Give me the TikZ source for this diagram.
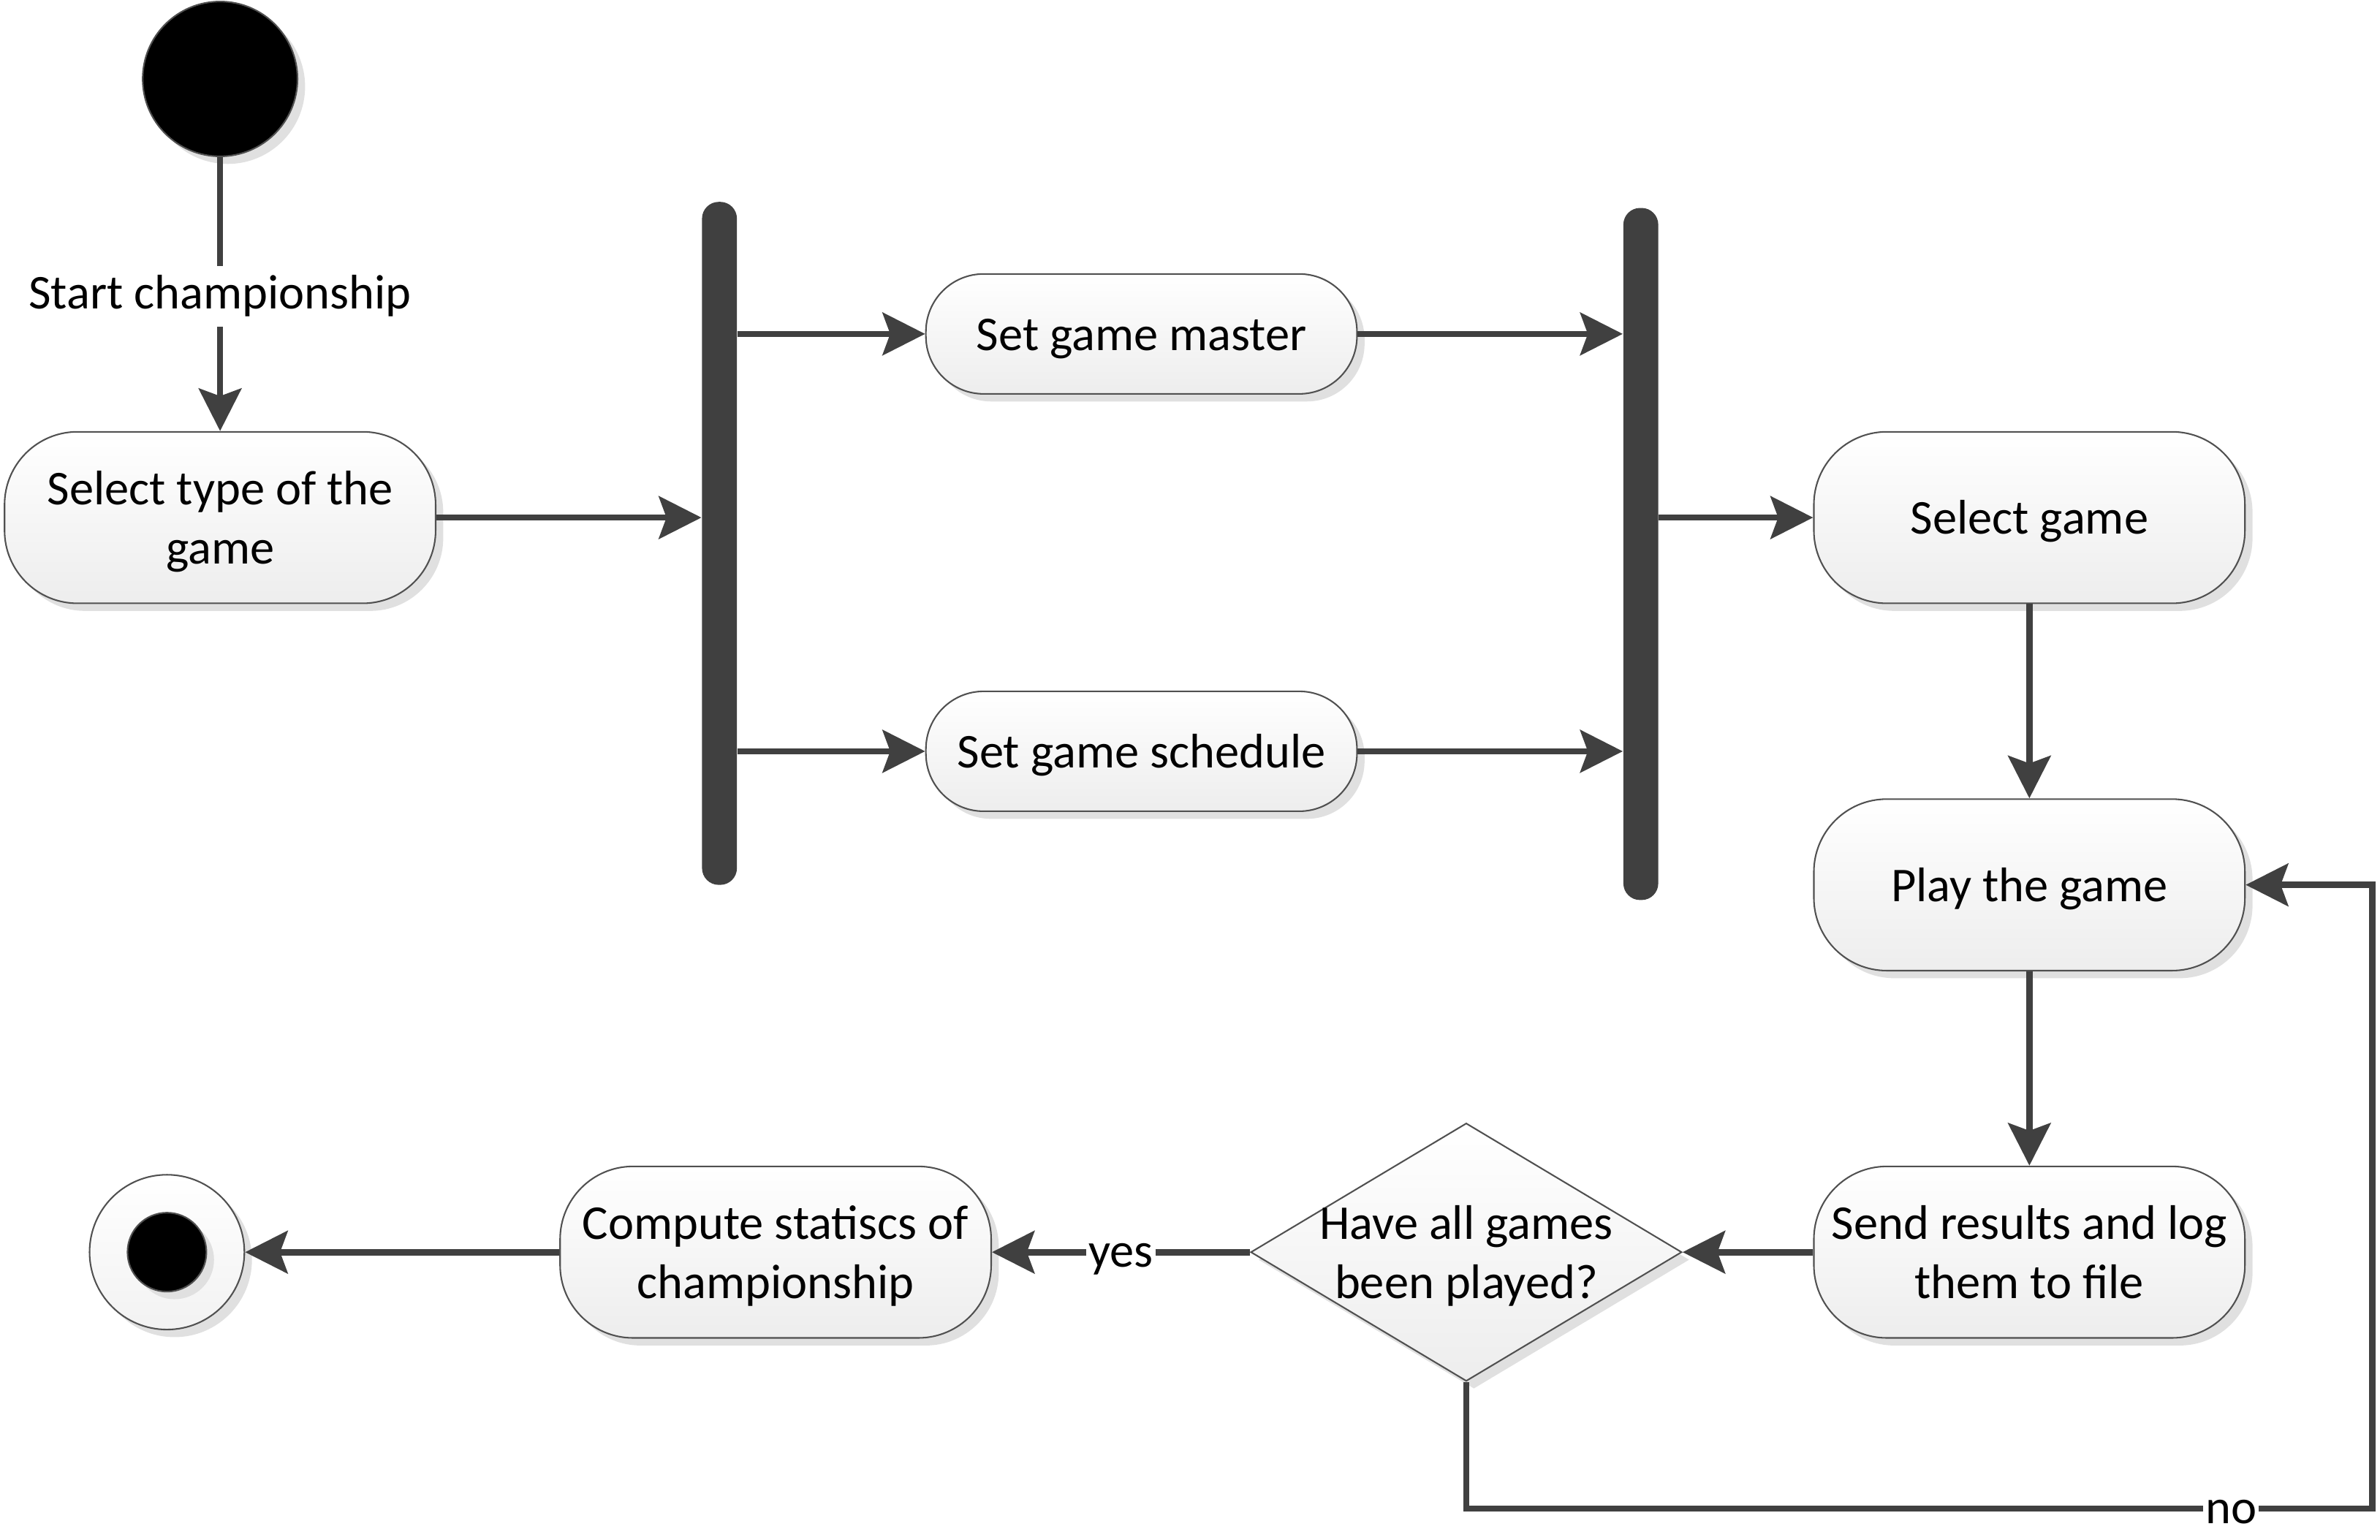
\documentclass[tikz,border=0pt]{standalone}
\usepackage{fontspec}
\setmainfont{Carlito}
\usetikzlibrary{shapes.geometric,shadows,arrows.meta}
\definecolor{dk}{HTML}{404040}
\definecolor{bd}{HTML}{505050}
\newcommand\tx[1]{\raisebox{-1.5pt}[\height][\depth]{\begin{tabular}{@{}c@{}}#1\end{tabular}}}
\tikzset{
 shad/.style={drop shadow={shadow xshift=2.5pt, shadow yshift=-2.5pt, fill=black!12, opacity=1}},
 act/.style={draw=bd, line width=0.5pt, top color=white, bottom color=black!7, shad, font=\fontsize{16}{19.5}\selectfont, inner sep=0pt},
 tall/.style={act, minimum width=142pt, minimum height=56.5pt, rounded corners=24pt},
 short/.style={act, minimum width=142pt, minimum height=39.5pt, rounded corners=19pt},
 bar/.style={fill=dk, draw=none, rounded corners=5.5pt, minimum width=11.5pt, inner sep=0pt},
 arr/.style={draw=dk, line width=2.1pt, -{Stealth[length=14pt,width=14pt,inset=2.5pt]}},
 lbl/.style={fill=white, inner xsep=0.7pt, inner ysep=2pt, text height=12pt, text depth=4pt, anchor=base, yshift=-4.8pt, font=\fontsize{16}{19.5}\selectfont, text=black},
}
\begin{document}
\begin{tikzpicture}[x=0.5pt,y=-0.5pt]
\useasboundingbox (0,0) rectangle (1568,1014.2);
% nodes
\node[circle, fill=black, draw=bd, line width=0.5pt, minimum size=51pt, inner sep=0pt, shad] (start) at (145,52) {};
\node[tall] (seltype) at (145,341) {\tx{Select type of the\\game}};
\node[bar, minimum height=225pt] (fork) at (474,358) {};
\node[short] (master) at (752,220) {\tx{Set game master}};
\node[short] (sched) at (752,495) {\tx{Set game schedule}};
\node[bar, minimum height=228pt] (join) at (1081,365) {};
\node[tall] (selgame) at (1337,341) {\tx{Select game}};
\node[tall] (play) at (1337,583) {\tx{Play the game}};
\node[tall] (send) at (1337,825) {\tx{Send results and log\\them to file}};
\node[diamond, draw=bd, line width=0.5pt, top color=white, bottom color=black!7, shad, minimum width=142pt, minimum height=85pt, inner sep=0pt] (dec) at (966,825) {};
\node[font=\fontsize{16}{19.5}\selectfont, inner sep=0pt] (dectext) at (dec) {\tx{Have all games\\been played?}};
\node[tall] (comp) at (511,825) {\tx{Compute statiscs of\\championship}};
\node[circle, draw=bd, line width=0.5pt, top color=white, bottom color=black!5, minimum size=51pt, inner sep=0pt, shad] (endc) at (110,825) {};
\node[circle, fill=black, draw=bd, line width=0.5pt, minimum size=26pt, inner sep=0pt, shad] (endin) at (endc) {};
\coordinate (ncorner) at (1563,994);
% connectors
\draw[arr] (start) -- node[lbl]{Start championship} (seltype);
\draw[arr] (seltype.east) -- (seltype.east -| fork.west);
\draw[arr] (fork.east |- master) -- (master.west);
\draw[arr] (fork.east |- sched) -- (sched.west);
\draw[arr] (master.east) -- (master.east -| join.west);
\draw[arr] (sched.east) -- (sched.east -| join.west);
\draw[arr] (join.east |- selgame) -- (selgame.west);
\draw[arr] (selgame) -- (play);
\draw[arr] (play) -- (send);
\draw[arr] (send.west) -- (dec.east);
\draw[arr] (dec.west) -- node[lbl]{yes} (comp.east);
\draw[arr] (comp.west) -- (endc.east);
\draw[arr] (dec.south) |- node[lbl, pos=0.922]{no} (ncorner) |- (play.east);
\end{tikzpicture}
\end{document}
